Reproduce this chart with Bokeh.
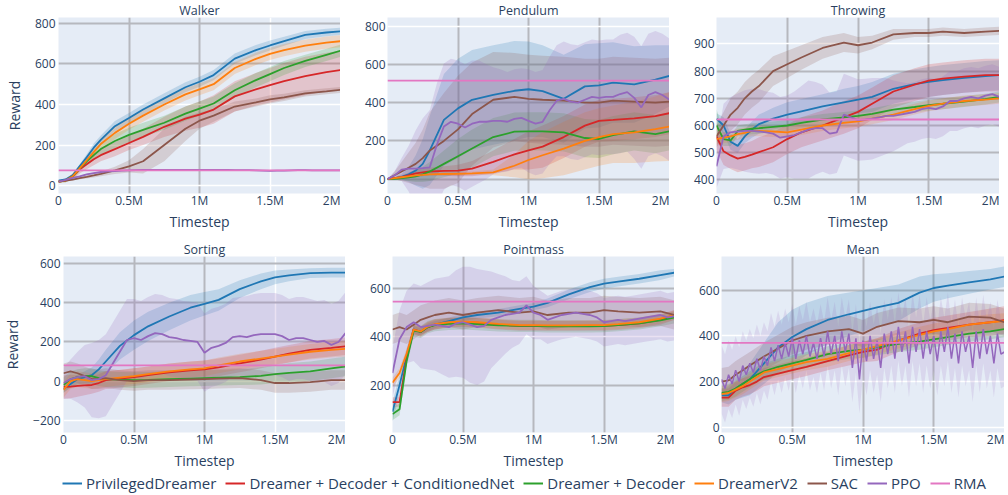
from bokeh.plotting import figure
from bokeh.layouts import column, row
from bokeh.models import (Range1d, FixedTicker, CustomJSTickFormatter,
                          Legend, LegendItem, Grid, Span)
from bokeh.embed import file_html
from bokeh.resources import INLINE

FONT = "Open Sans"
TXT = "#2a3f5f"
BG = "#E5ECF6"
GRAY = "#b6b8be"

NAMES = ["PrivilegedDreamer", "Dreamer + Decoder + ConditionedNet", "Dreamer + Decoder",
         "DreamerV2", "SAC", "PPO", "RMA"]
COLORS = ["#1f77b4", "#d62728", "#2ca02c", "#ff7f0e", "#8c564b", "#9467bd", "#e377c2"]

# common timestep grid (millions) for smooth curves
G = [0, 0.05, 0.1, 0.15, 0.2, 0.25, 0.3, 0.4, 0.5, 0.6, 0.75, 0.9, 1.0, 1.1, 1.25, 1.4, 1.5, 1.6, 1.75, 1.9, 2.0]
# finer grid for PPO (millions)
P = [i * 0.05 for i in range(41)]
PM = [i * 0.025 for i in range(81)]

# ---------------- Walker ----------------
walker_blue = [25, 30, 50, 95, 140, 187, 225, 293, 333, 375, 430, 485, 512, 545, 626, 668, 691, 712, 743, 755, 761]
walker_blue_sd = [5, 5, 8, 10, 15, 20, 22, 25, 25, 25, 25, 25, 25, 25, 25, 25, 25, 22, 20, 18, 18]
walker_red = [20, 25, 45, 80, 105, 130, 150, 180, 210, 240, 290, 330, 350, 375, 440, 475, 495, 515, 540, 560, 570]
walker_red_sd = [5, 8, 15, 20, 25, 30, 30, 35, 35, 40, 50, 60, 65, 70, 75, 80, 85, 90, 95, 95, 95]
walker_green = [20, 25, 45, 85, 120, 150, 180, 220, 250, 275, 310, 355, 380, 405, 470, 520, 550, 580, 615, 645, 665]
walker_green_sd = [5, 8, 12, 15, 20, 25, 30, 35, 35, 35, 35, 35, 35, 35, 35, 35, 35, 35, 30, 30, 30]
walker_orange = [20, 25, 45, 85, 125, 165, 205, 260, 305, 345, 400, 450, 475, 500, 580, 625, 650, 668, 690, 705, 712]
walker_orange_sd = [5, 8, 12, 15, 20, 25, 28, 30, 30, 30, 30, 30, 30, 30, 30, 30, 30, 30, 30, 30, 30]
walker_sac = [20, 25, 30, 37, 43, 50, 58, 75, 95, 120, 200, 280, 320, 345, 390, 410, 425, 435, 455, 465, 472]
walker_sac_sd = [5, 5, 5, 6, 8, 10, 12, 18, 30, 60, 80, 60, 40, 30, 25, 20, 20, 18, 15, 15, 15]
walker_ppo = [20, 28, 38, 45, 55, 62, 67, 70, 72, 74, 75, 76, 77, 77, 78, 78, 78, 78, 78, 78, 78,
              78, 77, 77, 77, 76, 76, 76, 75, 74, 73, 74, 74, 75, 76, 76, 75, 75, 75, 75, 75]
walker_ppo_sd = [3] * 41
walker_rma = 75

# ---------------- Pendulum ----------------
pend_blue = [0, 5, 12, 25, 45, 80, 150, 310, 370, 415, 440, 462, 470, 460, 420, 485, 490, 505, 495, 520, 540]
pend_blue_sd = [0, 5, 15, 40, 80, 130, 180, 240, 260, 260, 260, 260, 250, 240, 230, 220, 220, 210, 200, 180, 160]
pend_red = [0, 5, 10, 20, 30, 35, 40, 43, 45, 55, 90, 130, 150, 170, 220, 280, 305, 310, 318, 330, 345]
pend_red_sd = [0, 5, 10, 15, 20, 20, 20, 25, 30, 40, 60, 80, 100, 110, 110, 110, 110, 110, 110, 110, 110]
pend_green = [0, 2, 5, 10, 15, 25, 40, 80, 120, 160, 220, 248, 250, 250, 245, 215, 210, 230, 250, 235, 250]
pend_green_sd = [0, 5, 10, 20, 30, 40, 50, 70, 90, 100, 100, 100, 100, 100, 100, 100, 100, 100, 100, 100, 100]
pend_orange = [0, 5, 10, 15, 20, 22, 25, 27, 28, 30, 35, 70, 100, 125, 160, 200, 220, 235, 245, 262, 275]
pend_orange_sd = [0, 3, 5, 5, 5, 5, 5, 8, 10, 10, 15, 60, 100, 120, 140, 150, 150, 150, 160, 170, 180]
pend_sac = [0, 20, 40, 60, 80, 110, 150, 200, 260, 340, 415, 430, 420, 415, 410, 400, 400, 410, 405, 400, 405]
pend_sac_sd = [0, 20, 50, 80, 110, 150, 200, 250, 280, 270, 250, 230, 230, 230, 230, 230, 230, 230, 230, 230, 230]
pend_ppo = [0, 20, 50, 55, 55, 58, 62, 180, 275, 300, 290, 270, 290, 300, 300, 305, 305, 300, 315, 320,
            305, 290, 300, 360, 410, 420, 405, 400, 415, 430, 425, 430, 430, 445, 455, 425, 375, 440, 455, 440, 415]
pend_ppo_sd = [0, 20, 60, 120, 200, 260, 300, 320, 330, 330, 330, 330, 330, 320, 300, 280, 270, 260, 260, 260,
               270, 270, 270, 280, 290, 300, 300, 300, 300, 300, 300, 300, 300, 310, 310, 320, 320, 320, 320, 320, 320]
pend_rma = 515

# ---------------- Throwing ----------------
throw_blue = [625, 600, 540, 525, 560, 585, 605, 625, 640, 652, 670, 685, 695, 705, 735, 752, 760, 767, 775, 782, 785]
throw_blue_sd = [20, 30, 30, 25, 25, 30, 35, 40, 45, 45, 45, 50, 50, 55, 55, 55, 55, 55, 55, 55, 55]
throw_red = [560, 505, 490, 478, 485, 493, 502, 520, 550, 575, 600, 630, 650, 680, 725, 750, 765, 772, 780, 785, 785]
throw_red_sd = [50, 50, 50, 50, 50, 50, 55, 55, 55, 55, 55, 60, 60, 60, 60, 60, 60, 60, 60, 60, 60]
throw_green = [600, 550, 545, 580, 585, 588, 590, 595, 600, 610, 622, 630, 635, 643, 658, 668, 675, 680, 688, 697, 705]
throw_green_sd = [60, 25, 20, 20, 20, 20, 20, 20, 20, 20, 20, 20, 20, 20, 20, 20, 20, 20, 20, 20, 20]
throw_orange = [550, 555, 560, 568, 573, 580, 580, 578, 575, 585, 600, 610, 615, 625, 640, 660, 672, 680, 690, 695, 700]
throw_orange_sd = [20] * 21
throw_sac = [560, 600, 640, 665, 700, 725, 745, 800, 825, 850, 885, 905, 895, 905, 935, 940, 940, 945, 940, 945, 948]
throw_sac_sd = [40, 50, 60, 60, 60, 60, 60, 55, 50, 45, 40, 35, 30, 25, 20, 15, 15, 15, 15, 15, 15]
throw_ppo = [450, 560, 575, 578, 580, 580, 578, 575, 570, 555, 560, 565, 575, 585, 590, 590, 570, 575, 640, 630,
             620, 622, 625, 630, 635, 635, 640, 645, 650, 660, 665, 660, 670, 690, 690, 700, 705, 700, 710, 715, 705]
throw_ppo_sd = [80, 120, 130, 140, 150, 155, 155, 150, 150, 150, 150, 160, 170, 180, 170, 160, 150, 150, 150, 150,
                150, 150, 150, 145, 140, 130, 120, 110, 110, 110, 110, 110, 110, 110, 110, 110, 110, 110, 110, 110, 110]
throw_rma = 622

# ---------------- Sorting ----------------
sort_blue = [-40, -15, 10, 20, 30, 60, 100, 180, 235, 280, 330, 375, 395, 415, 470, 510, 530, 540, 552, 555, 555]
sort_blue_sd = [20, 20, 25, 30, 40, 50, 60, 70, 75, 75, 70, 65, 60, 55, 45, 40, 35, 30, 25, 25, 25]
sort_red = [-30, -28, -25, -22, -20, -10, 5, 12, 20, 30, 45, 55, 60, 70, 90, 110, 125, 140, 160, 170, 178]
sort_red_sd = [60, 60, 55, 50, 45, 45, 45, 45, 45, 45, 45, 45, 45, 45, 45, 45, 45, 45, 45, 45, 45]
sort_green = [-20, 10, 20, 25, 25, 15, 10, 7, 5, 6, 10, 13, 15, 17, 20, 27, 35, 42, 50, 65, 75]
sort_green_sd = [40, 40, 40, 40, 40, 40, 40, 40, 40, 40, 40, 40, 40, 40, 40, 45, 45, 50, 50, 50, 50]
sort_orange = [-45, 0, 10, 5, 0, 5, 10, 18, 25, 35, 50, 60, 65, 80, 100, 115, 125, 135, 150, 160, 165]
sort_orange_sd = [40] * 21
sort_sac = [40, 50, 40, 25, 10, 10, 15, 5, 0, 5, 5, 8, 10, 12, 15, 5, -10, -10, -5, 5, 5]
sort_sac_sd = [50] * 21
sort_ppo = [-10, 10, 20, 25, 5, 10, 30, 90, 150, 210, 220, 210, 230, 245, 240, 225, 220, 210, 205, 200,
            145, 170, 180, 195, 225, 230, 225, 235, 240, 240, 240, 230, 210, 220, 220, 210, 200, 205, 185, 200, 245]
sort_ppo_sd = [80, 100, 130, 160, 190, 200, 210, 210, 210, 210, 200, 200, 200, 200, 200, 200, 200, 200, 200, 200,
               200, 200, 200, 200, 200, 200, 210, 210, 210, 210, 210, 210, 210, 210, 210, 210, 210, 210, 210, 210, 210]
sort_rma = 80

# ---------------- Pointmass ----------------
pm_blue = [90, 200, 320, 430, 420, 440, 450, 465, 480, 490, 500, 515, 525, 540, 575, 605, 620, 628, 640, 655, 665]
pm_blue_sd = [40, 40, 30, 15, 15, 15, 15, 15, 15, 15, 15, 15, 15, 18, 20, 20, 20, 20, 20, 20, 15]
pm_red = [130, 130, 310, 430, 420, 440, 450, 458, 460, 458, 450, 445, 445, 445, 445, 445, 445, 448, 455, 470, 490]
pm_red_sd = [20] * 21
pm_green = [80, 100, 300, 425, 420, 440, 448, 453, 455, 452, 447, 445, 445, 443, 443, 443, 444, 448, 455, 468, 480]
pm_green_sd = [25] * 21
pm_orange = [210, 250, 330, 430, 422, 442, 452, 460, 463, 460, 453, 448, 448, 447, 447, 448, 448, 452, 460, 475, 490]
pm_orange_sd = [20] * 21
pm_sac = [430, 440, 430, 450, 470, 480, 490, 500, 490, 500, 510, 500, 505, 490, 500, 500, 510, 505, 500, 505, 490]
pm_sac_sd = [60] * 21
pm_ppo = [250, 390, 440, 460, 440, 445, 450, 445, 440, 455, 460, 450, 440, 445, 470, 480, 490, 495, 500, 530,
          500, 490, 470, 480, 490, 495, 500, 495, 490, 480, 460, 465, 470, 465, 470, 475, 480, 485, 490, 480, 485]
pm_ppo_sd = [100, 120, 150, 160, 170, 180, 190, 200, 210, 220, 230, 240, 240, 230, 200, 180, 160, 140, 130, 120,
             110, 100, 100, 100, 100, 100, 100, 100, 100, 100, 100, 100, 100, 100, 100, 100, 100, 100, 100, 100, 100]
pm_rma = 545

# ---------------- Mean ----------------
mean_blue = [140, 140, 170, 190, 210, 245, 280, 350, 395, 430, 470, 495, 510, 525, 545, 590, 610, 620, 635, 648, 660]
mean_blue_sd = [30, 40, 50, 60, 70, 80, 90, 110, 120, 115, 105, 95, 90, 85, 80, 70, 60, 55, 50, 45, 45]
mean_red = [130, 130, 160, 175, 185, 200, 220, 235, 250, 265, 290, 315, 330, 340, 380, 410, 425, 435, 450, 460, 470]
mean_red_sd = [40, 40, 40, 40, 40, 40, 40, 40, 40, 40, 40, 45, 45, 50, 50, 50, 55, 55, 55, 60, 60]
mean_green = [150, 155, 170, 190, 210, 230, 245, 265, 280, 295, 320, 335, 340, 350, 365, 375, 385, 395, 410, 420, 430]
mean_green_sd = [35] * 21
mean_orange = [145, 150, 165, 180, 200, 220, 240, 255, 270, 285, 300, 325, 340, 355, 380, 405, 420, 430, 450, 460, 465]
mean_orange_sd = [35] * 21
mean_sac = [200, 205, 230, 250, 270, 290, 310, 345, 380, 400, 420, 430, 410, 440, 465, 460, 470, 460, 485, 480, 460]
mean_sac_sd = [60] * 21
mean_ppo = [210, 170, 230, 190, 250, 200, 270, 230, 280, 240, 300, 250, 310, 270, 350, 290, 360, 300, 370, 310,
            390, 300, 380, 320, 400, 310, 370, 300, 390, 310, 420, 320, 400, 290, 420, 330, 410, 260, 390, 210,
            380, 290, 400, 300, 380, 260, 410, 320, 420, 300, 440, 330, 420, 280, 440, 330, 430, 300, 420, 320,
            400, 290, 420, 330, 440, 300, 410, 280, 420, 330, 400, 260, 420, 300, 430, 320, 400, 280, 410, 320, 330]
mean_ppo_sd = [150] * 81
mean_rma = 370

PANELS = [
    dict(title="Walker", yr=(-39, 829), yt=[0, 200, 400, 600, 800],
         smooth=[(walker_blue, walker_blue_sd), (walker_red, walker_red_sd), (walker_green, walker_green_sd),
                 (walker_orange, walker_orange_sd), (walker_sac, walker_sac_sd)],
         ppo=(P, walker_ppo, walker_ppo_sd), rma=walker_rma,
         gx=[0.5e6, 1e6], wx=[1.5e6], gy=[600, 800], wy=[0, 200, 400]),
    dict(title="Pendulum", yr=(-75, 845), yt=[0, 200, 400, 600, 800],
         smooth=[(pend_blue, pend_blue_sd), (pend_red, pend_red_sd), (pend_green, pend_green_sd),
                 (pend_orange, pend_orange_sd), (pend_sac, pend_sac_sd)],
         ppo=(P, pend_ppo, pend_ppo_sd), rma=pend_rma,
         gx=[0.5e6, 1e6, 1.5e6], wx=[], gy=[0, 200, 400, 600], wy=[800]),
    dict(title="Throwing", yr=(350, 997), yt=[400, 500, 600, 700, 800, 900],
         smooth=[(throw_blue, throw_blue_sd), (throw_red, throw_red_sd), (throw_green, throw_green_sd),
                 (throw_orange, throw_orange_sd), (throw_sac, throw_sac_sd)],
         ppo=(P, throw_ppo, throw_ppo_sd), rma=throw_rma,
         gx=[0.5e6, 1e6, 1.5e6], wx=[], gy=[400, 500, 600, 700, 800], wy=[900]),
    dict(title="Sorting", yr=(-263, 637), yt=[-200, 0, 200, 400, 600],
         smooth=[(sort_blue, sort_blue_sd), (sort_red, sort_red_sd), (sort_green, sort_green_sd),
                 (sort_orange, sort_orange_sd), (sort_sac, sort_sac_sd)],
         ppo=(P, sort_ppo, sort_ppo_sd), rma=sort_rma,
         gx=[0.5e6, 1e6], wx=[1.5e6], gy=[200, 400, 600], wy=[-200, 0]),
    dict(title="Pointmass", yr=(4, 732), yt=[200, 400, 600],
         smooth=[(pm_blue, pm_blue_sd), (pm_red, pm_red_sd), (pm_green, pm_green_sd),
                 (pm_orange, pm_orange_sd), (pm_sac, pm_sac_sd)],
         ppo=(P, pm_ppo, pm_ppo_sd), rma=pm_rma,
         gx=[0.5e6, 1e6, 1.5e6], wx=[], gy=[200, 600], wy=[400]),
    dict(title="Mean", yr=(-23, 748), yt=[0, 200, 400, 600],
         smooth=[(mean_blue, mean_blue_sd), (mean_red, mean_red_sd), (mean_green, mean_green_sd),
                 (mean_orange, mean_orange_sd), (mean_sac, mean_sac_sd)],
         ppo=(PM, mean_ppo, mean_ppo_sd), rma=mean_rma,
         gx=[0.5e6, 1e6, 1.5e6], wx=[], gy=[600], wy=[0, 200, 400]),
]

XFMT = CustomJSTickFormatter(code="return tick == 0 ? '0' : (tick / 1e6) + 'M';")
YFMT = CustomJSTickFormatter(code="return tick < 0 ? '\u2212' + Math.abs(tick) : '' + tick;")

FRAME_W = 282
FRAME_H = 176


def make_panel(cfg, col, rowi):
    left = 58 if col == 0 else 47
    top = 17
    bottom = 46 if rowi == 0 else 40
    p = figure(frame_width=FRAME_W if col < 2 else 283, frame_height=FRAME_H,
               x_range=Range1d(0, 2e6), y_range=Range1d(*cfg["yr"]),
               output_backend="svg", toolbar_location=None,
               min_border_left=left, min_border_right=0, min_border_top=top, min_border_bottom=bottom,
               background_fill_color=BG, border_fill_color="white", outline_line_color=None)
    p.title.text = cfg["title"]
    p.title.align = "center"
    p.title.text_font = FONT
    p.title.text_font_size = "12.5px"
    p.title.text_font_style = "normal"
    p.title.text_color = TXT
    p.title.standoff = -3
    p.xgrid.visible = False
    p.ygrid.visible = False
    for ticks, colr, w in ((cfg["wx"], "white", 1.5), (cfg["gx"], GRAY, 2)):
        if ticks:
            p.add_layout(Grid(dimension=0, ticker=FixedTicker(ticks=ticks), grid_line_color=colr,
                              grid_line_width=w, level="underlay"))
    for ticks, colr, w in ((cfg["wy"], "white", 1.5), (cfg["gy"], GRAY, 2)):
        if ticks:
            p.add_layout(Grid(dimension=1, ticker=FixedTicker(ticks=ticks), grid_line_color=colr,
                              grid_line_width=w, level="underlay"))

    xs = [g * 1e6 for g in G]
    px, py, psd = cfg["ppo"]
    pxs = [v * 1e6 for v in px]
    for (ys, sd), c in zip(cfg["smooth"], COLORS[:5]):
        p.varea(x=xs, y1=[a - b for a, b in zip(ys, sd)], y2=[a + b for a, b in zip(ys, sd)],
                fill_color=c, fill_alpha=0.2)
    p.varea(x=pxs, y1=[a - b for a, b in zip(py, psd)], y2=[a + b for a, b in zip(py, psd)],
            fill_color=COLORS[5], fill_alpha=0.15 if cfg["title"] == "Mean" else 0.2)
    for (ys, sd), c in zip(cfg["smooth"], COLORS[:5]):
        p.line(xs, ys, line_color=c, line_width=1.8)
    p.line(pxs, py, line_color=COLORS[5], line_width=1.8 if cfg["title"] != "Mean" else 1.5)
    p.add_layout(Span(location=cfg["rma"], dimension="width", line_color=COLORS[6], line_width=1.8))

    p.xaxis.ticker = FixedTicker(ticks=[0, 5e5, 1e6, 1.5e6, 2e6])
    p.xaxis.formatter = XFMT
    p.yaxis.ticker = FixedTicker(ticks=cfg["yt"])
    p.yaxis.formatter = YFMT
    for ax in (p.xaxis[0], p.yaxis[0]):
        ax.axis_line_color = None
        ax.major_tick_line_color = None
        ax.minor_tick_line_color = None
        ax.major_tick_out = 0
        ax.major_tick_in = 0
        ax.major_label_text_font = FONT
        ax.major_label_text_font_size = "12px"
        ax.major_label_text_color = TXT
        ax.axis_label_text_font = FONT
        ax.axis_label_text_font_size = "14px"
        ax.axis_label_text_color = TXT
        ax.axis_label_text_font_style = "normal"
    p.xaxis.major_label_standoff = -2
    p.yaxis.major_label_standoff = 3 if col == 0 else 2
    p.xaxis.axis_label = "Timestep"
    p.xaxis.axis_label_standoff = 0
    if col == 0:
        p.yaxis.axis_label = "Reward"
        p.yaxis.axis_label_standoff = 8
    return p


figs = [make_panel(cfg, i % 3, i // 3) for i, cfg in enumerate(PANELS)]

# legend strip
lg = figure(width=1004, height=23, output_backend="svg", toolbar_location=None,
            x_axis_location=None, y_axis_location=None, min_border=0,
            outline_line_color=None, background_fill_color="white", border_fill_color="white",
            x_range=Range1d(0, 1), y_range=Range1d(0, 1))
lg.xgrid.visible = False
lg.ygrid.visible = False
items = []
for n, c in zip(NAMES, COLORS):
    r = lg.line(x=[5, 6], y=[5, 5], line_color=c, line_width=2)
    items.append(LegendItem(label=n, renderers=[r]))
legend = Legend(items=items, orientation="horizontal", location=(62, 2),
                label_text_font=FONT, label_text_font_size="15px", label_text_color=TXT,
                glyph_width=20, glyph_height=16, label_height=16, label_standoff=4, spacing=9,
                padding=0, margin=0, border_line_color=None, background_fill_alpha=0)
lg.add_layout(legend, "center")

layout = column(row(*figs[:3]), row(*figs[3:]), lg, spacing=0)
open("out.html", "w").write(file_html(layout, INLINE))
